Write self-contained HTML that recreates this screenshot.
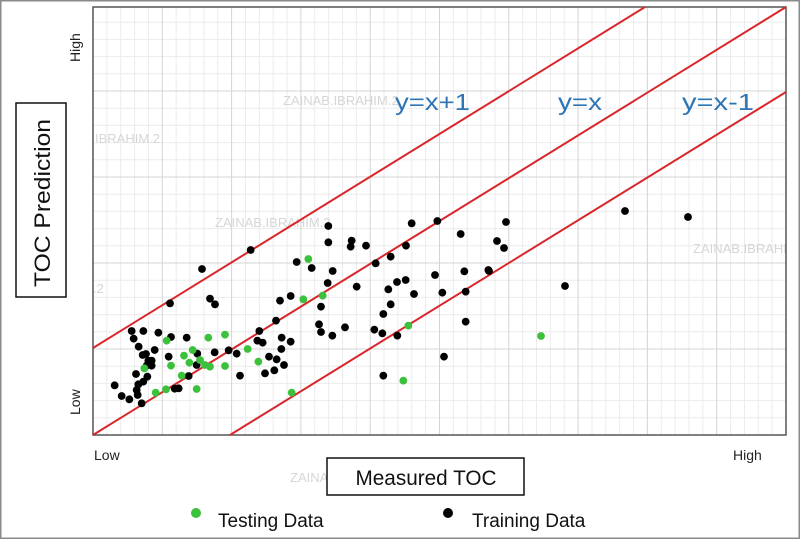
<!DOCTYPE html>
<html><head><meta charset="utf-8"><style>
html,body{margin:0;padding:0;background:#fff;}
body{width:800px;height:539px;overflow:hidden;font-family:"Liberation Sans",sans-serif;}
</style></head><body>
<svg width="800" height="539" xmlns="http://www.w3.org/2000/svg" font-family="Liberation Sans, sans-serif">
<rect x="0.5" y="0.5" width="799" height="538" fill="#fff" stroke="#8a8a8a" stroke-width="2"/>
<g stroke="#ebebeb" stroke-width="1" id="minor"></g>
<g stroke="#d4d4d4" stroke-width="1" id="major"></g>
<g font-size="13" fill="#d6d6d6">
<text x="283" y="105">ZAINAB.IBRAHIM.2</text>
<text x="215" y="227">ZAINAB.IBRAHIM.2</text>
<text x="95" y="143">IBRAHIM.2</text>
<text x="693" y="253">ZAINAB.IBRAHI</text>
<text x="93" y="293">.2</text>
<text x="290" y="482">ZAINA</text>
</g>
<rect x="93" y="7" width="693" height="428" fill="none" stroke="#555" stroke-width="1.5"/>
<g stroke="#d9262b" stroke-width="2">
<line x1="93" y1="435" x2="786" y2="7"/>
<line x1="93" y1="348" x2="645" y2="7"/>
<line x1="230" y1="435" x2="786" y2="92"/>
</g>
<g font-size="23" fill="#2e75b6">
<text x="395" y="110" textLength="75" lengthAdjust="spacingAndGlyphs">y=x+1</text>
<text x="558" y="110" textLength="44" lengthAdjust="spacingAndGlyphs">y=x</text>
<text x="682" y="110" textLength="72" lengthAdjust="spacingAndGlyphs">y=x-1</text>
</g>
<g id="pts"></g>
<g font-size="14" fill="#222">
<text transform="translate(80,62) rotate(-90)">High</text>
<text transform="translate(80,415) rotate(-90)">Low</text>
<text x="94" y="460">Low</text>
<text x="733" y="460">High</text>
</g>
<rect x="16" y="103" width="50" height="194" fill="#fff" stroke="#111" stroke-width="1.5"/>
<text transform="translate(50,203) rotate(-90)" font-size="22" text-anchor="middle" fill="#111" textLength="168" lengthAdjust="spacingAndGlyphs">TOC Prediction</text>
<rect x="327" y="458" width="197" height="37" fill="#fff" stroke="#111" stroke-width="1.5"/>
<text x="426" y="485" font-size="21" text-anchor="middle" fill="#111" textLength="141" lengthAdjust="spacingAndGlyphs">Measured TOC</text>
<circle cx="196" cy="513" r="5" fill="#3cc13c"/>
<text x="218" y="527" font-size="19" fill="#111">Testing Data</text>
<circle cx="448" cy="513" r="5" fill="#000"/>
<text x="472" y="527" font-size="19" fill="#111">Training Data</text>
</svg>
<script>
var ns="http://www.w3.org/2000/svg";
function ln(g,x1,y1,x2,y2){var l=document.createElementNS(ns,"line");l.setAttribute("x1",x1);l.setAttribute("y1",y1);l.setAttribute("x2",x2);l.setAttribute("y2",y2);g.appendChild(l);}
var mi=document.getElementById("minor"),ma=document.getElementById("major");
for(var i=0;i<=50;i++){var x=93+i*13.86;if(x>786)break;ln(i%5==0?ma:mi,x,7,x,435);}
for(var j=0;j<=25;j++){var y=435-j*17.2;if(y<7)break;ln(j%5==0?ma:mi,93,y,786,y);}
var b=[[715,78],[965,70],[1042,63],[1112,102],[715,127],[785,122],[782,140],[828,137],[948,137],[620,186],[665,204],[728,213],[857,190],[902,170],[336,207],[482,150],[713,249],[800,260],[1035,225],[1123,214],[1195,210],[921,246],[947,240],[895,268],[972,282],[1057,278],[1127,275],[240,310],[360,296],[375,313],[570,302],[602,288],[693,320],[902,313],[880,342],[1127,365],[687,373],[693,396],[727,407],[765,382],[853,389],[877,400],[922,407],[558,362],[508,393],[502,422],[518,428],[575,413],[574,447],[602,425],[537,470],[560,478],[582,495],[553,511],[525,520],[450,527],[440,461],[416,451],[374,457],[322,461],[290,413],[243,411],[205,398],[160,393],[125,393],[131,416],[146,440],[194,450],[236,470],[158,465],[168,462],[175,482],[185,482],[170,497],[185,497],[138,522],[172,530],[160,545],[145,553],[140,570],[143,585],[118,598],[95,588],[74,556],[155,610],[266,565],[254,566],[296,528],[320,495],[1062,470],[880,527]];
var g=[[655,177],[640,298],[698,287],[230,422],[355,413],[405,404],[473,447],[282,467],[308,450],[298,488],[243,497],[330,480],[345,495],[360,500],[405,498],[505,485],[163,505],[275,527],[228,568],[197,578],[320,567],[605,578],[940,542],[955,377]];
var pts=document.getElementById("pts");
function dot(x,y,c){var e=document.createElementNS(ns,"circle");e.setAttribute("cx",x);e.setAttribute("cy",y);e.setAttribute("r",3.9);e.setAttribute("fill",c);pts.appendChild(e);}
b.forEach(function(p){dot(90+p[0]/3,200+p[1]/3,"#000");});
[[625,211],[688,217],[506,222],[497,241],[504,248],[489,271],[565,286]].forEach(function(p){dot(p[0],p[1],"#000");});
g.forEach(function(p){dot(90+p[0]/3,200+p[1]/3,"#3cc13c");});
dot(541,336,"#3cc13c");
</script>
</body></html>
